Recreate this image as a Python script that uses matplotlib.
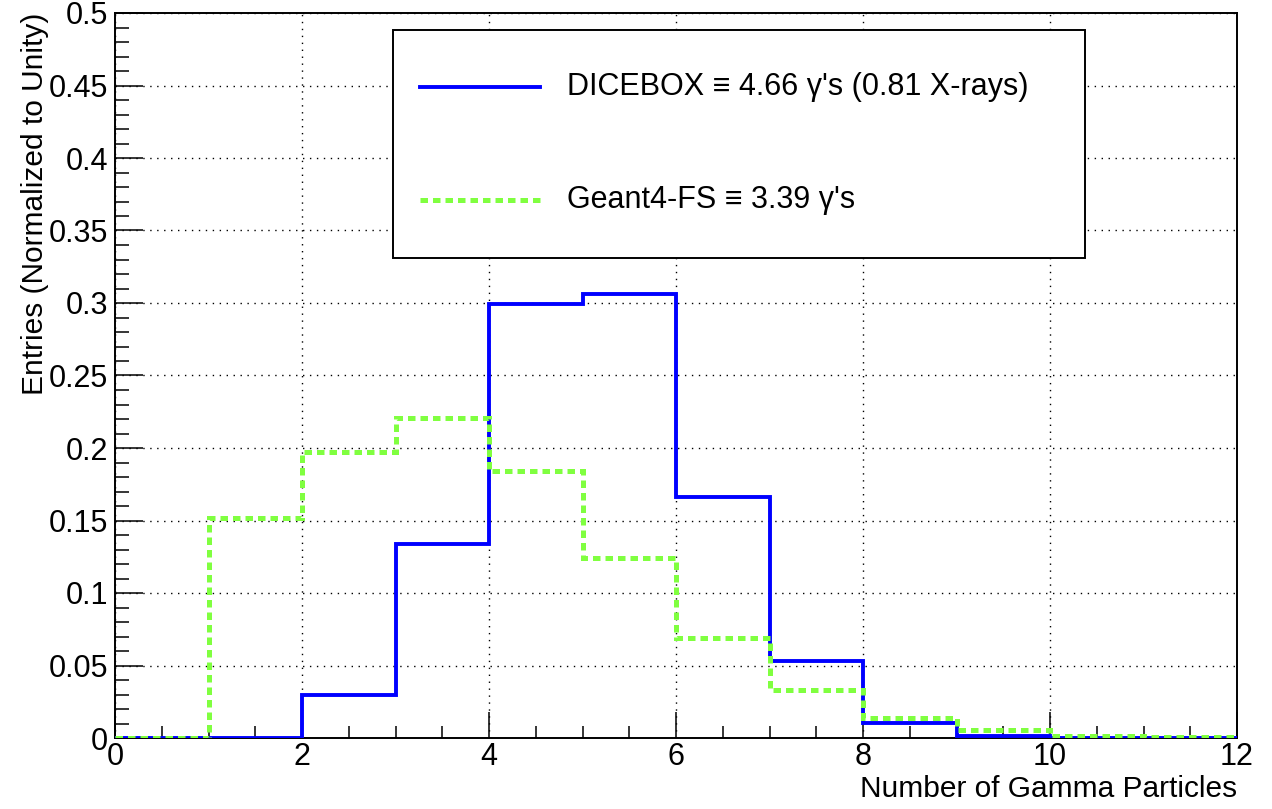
import numpy as np
import matplotlib.pyplot as plt
from matplotlib.patches import Rectangle
from matplotlib.ticker import MultipleLocator

plt.rcParams["font.family"] = ["Liberation Sans", "DejaVu Sans"]

# gamma multiplicity per cascade, normalised to unity
edges = np.arange(0, 13)
dicebox = [0, 0, 0.030, 0.134, 0.299, 0.306, 0.166, 0.053, 0.0106, 0.0016, 0, 0]
geant4 = [0, 0.152, 0.197, 0.221, 0.184, 0.124, 0.069, 0.033, 0.014, 0.0055, 0.0016, 0.0005]

labels = ["DICEBOX \u2261 4.66 \u03b3's (0.81 X-rays)", "Geant4-FS \u2261 3.39 \u03b3's"]
colors = ["#0000ff", "#80ff40"]
styles = [dict(lw=2.8, ls="-"), dict(lw=3.6, ls=(0, (1.5, 1.0)))]

fig = plt.figure(figsize=(12.72, 8.09), dpi=100)
ax = fig.add_axes([115 / 1272, 71 / 809, 1122 / 1272, 725 / 809])

ax.stairs(dicebox, edges, color=colors[0], baseline=None, zorder=3, **styles[0])
ax.stairs(geant4, edges, color=colors[1], baseline=None, zorder=4, **styles[1])

ax.set_xlim(0, 12)
ax.set_ylim(0, 0.5)
ax.xaxis.set_major_locator(MultipleLocator(2))
ax.xaxis.set_minor_locator(MultipleLocator(0.5))
ax.yaxis.set_major_locator(MultipleLocator(0.05))
ax.yaxis.set_minor_locator(MultipleLocator(0.01))
ax.set_yticklabels([f"{v:g}" for v in ax.get_yticks()])

ax.grid(True, which="major", color="black", lw=1.0, ls=(0, (1, 4)))
ax.tick_params(axis="both", which="both", direction="in", labelsize=22,
               top=False, right=False, width=1.1)
ax.tick_params(axis="y", which="major", length=20, pad=5)
ax.tick_params(axis="y", which="minor", length=10)
ax.tick_params(axis="x", which="major", length=19, pad=3)
ax.tick_params(axis="x", which="minor", length=9)
for s in ax.spines.values():
    s.set_linewidth(1.4)

ax.set_xlabel("Number of Gamma Particles", fontsize=21.5, loc="right", labelpad=2)
ax.set_ylabel("Entries (Normalized to Unity)", fontsize=21.5, loc="top", labelpad=0)

# legend box
bx0, bx1 = (393 - 115) / 1122, (1085 - 115) / 1122
by0, by1 = (738 - 258) / 725, (738 - 30) / 725
ax.add_patch(Rectangle((bx0, by0), bx1 - bx0, by1 - by0, transform=ax.transAxes,
                       facecolor="white", edgecolor="black", lw=1.4, zorder=5))
rows = [(738 - 87) / 725, (738 - 200) / 725]
for y, lab, c, st in zip(rows, labels, colors, styles):
    ax.plot([(420 - 115) / 1122, (540 - 115) / 1122], [y, y], color=c,
            transform=ax.transAxes, zorder=6, **st)
    ax.text((567 - 115) / 1122, y, lab, transform=ax.transAxes, fontsize=22,
            va="center", ha="left", zorder=6)

fig.savefig("out.png", dpi=100)
